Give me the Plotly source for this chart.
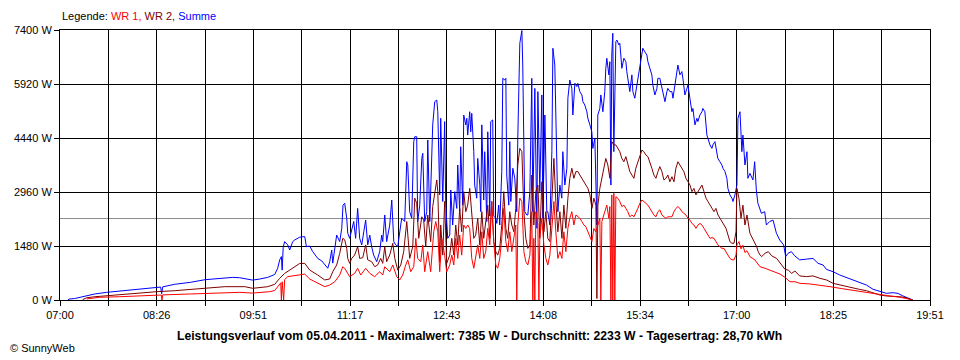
import numpy as np
import plotly.graph_objects as go

# ---------------- data (time = minutes after 07:00, power in W) ----------------
x_labels = ["07:00", "08:26", "09:51", "11:17", "12:43", "14:08", "15:34", "17:00", "18:25", "19:51"]
span_min = 771  # 07:00 -> 19:51
y_ticks = [0, 1480, 2960, 4440, 5920, 7400]
average_w = 2233

sum_t = [7.0, 8.0, 13.0, 20.1, 26.3, 30.8, 41.4, 52.9, 70.6, 85.8,
         89.2, 90.1, 91.0, 101.6, 115.7, 128.4, 137.3, 146.1, 153.1, 159.3,
         165.5, 170.8, 177.0, 184.1, 190.3, 192.9, 194.7, 196.2, 196.9, 197.8,
         199.1, 201.8, 203.6, 206.2, 208.0, 210.7, 212.4, 215.1, 216.9, 218.4,
         221.3, 224.0, 228.4, 232.0, 234.6, 237.3, 239.0, 240.8, 241.7, 243.5,
         245.2, 247.9, 249.7, 250.8, 252.3, 254.1, 255.0, 256.7, 258.5, 260.3,
         262.0, 263.8, 265.6, 267.4, 269.2, 270.9, 272.7, 274.5, 276.2, 278.0,
         280.7, 283.3, 285.1, 286.0, 287.8, 289.5, 292.2, 294.0, 295.8, 297.5,
         299.3, 301.1, 302.8, 305.5, 307.3, 308.2, 309.9, 311.7, 313.5, 314.4,
         316.1, 317.0, 318.8, 320.6, 321.5, 323.2, 325.0, 325.9, 327.7, 330.3,
         332.1, 333.9, 334.8, 336.5, 337.4, 339.2, 340.9, 341.8, 343.6, 345.4,
         346.3, 348.0, 349.8, 351.6, 352.5, 354.2, 355.1, 356.9, 357.8, 359.6,
         360.5, 361.3, 363.1, 364.0, 364.9, 366.7, 367.5, 369.3, 370.2, 372.0,
         372.9, 373.8, 375.5, 376.4, 378.2, 379.1, 380.9, 381.7, 383.5, 384.4,
         386.2, 387.1, 388.8, 389.7, 391.5, 392.4, 394.2, 395.1, 395.9, 397.7,
         398.6, 399.5, 401.3, 403.0, 404.8, 405.7, 407.5, 409.3, 410.1, 411.9,
         413.7, 414.6, 416.4, 418.1, 419.0, 420.8, 422.6, 423.5, 425.2, 427.0,
         427.9, 429.7, 431.4, 432.3, 434.1, 435.9, 436.8, 438.5, 440.3, 441.2,
         443.0, 444.7, 445.6, 447.4, 449.2, 450.1, 451.8, 453.6, 454.5, 456.3,
         458.0, 458.9, 460.7, 462.5, 463.4, 465.1, 466.9, 467.8, 469.6, 471.3,
         472.2, 474.0, 475.8, 476.6, 478.4, 479.3, 481.1, 482.8, 483.7, 484.6,
         486.4, 487.3, 488.2, 489.0, 489.9, 490.8, 492.6, 493.5, 495.3, 496.1,
         497.0, 497.9, 499.7, 501.5, 502.3, 504.1, 505.0, 506.8, 507.7, 509.4,
         511.2, 512.1, 513.9, 515.7, 516.5, 518.3, 520.1, 521.0, 522.8, 524.5,
         525.4, 527.2, 529.0, 529.8, 531.6, 533.4, 534.3, 536.1, 537.8, 538.7,
         540.5, 542.3, 543.2, 544.9, 546.7, 547.6, 549.4, 551.1, 552.0, 553.8,
         555.6, 556.5, 558.2, 560.0, 560.9, 562.7, 564.4, 565.3, 567.1, 568.9,
         569.7, 571.5, 573.3, 574.2, 576.0, 577.7, 578.6, 580.4, 582.2, 583.0,
         584.8, 586.6, 587.5, 589.3, 591.0, 591.9, 593.7, 595.5, 596.4, 598.1,
         599.9, 600.8, 602.6, 604.3, 605.2, 607.0, 608.8, 609.6, 611.4, 614.1,
         615.6, 617.1, 618.5, 621.6, 624.5, 626.0, 628.9, 631.9, 634.9, 637.8,
         641.3, 643.1, 645.2, 648.2, 651.1, 655.5, 661.5, 667.3, 671.8, 676.2,
         679.2, 685.1, 691.0, 697.0, 702.8, 708.7, 714.7, 720.5, 726.5, 732.4,
         738.3, 742.7, 747.1, 751.6, 756.0]
sum_w = [0, 25, 40, 90, 120, 165, 210, 245, 300, 350,
         355, 170, 360, 430, 485, 556, 575, 590, 620, 610,
         570, 545, 575, 620, 700, 870, 1100, 1190, 820, 1450,
         1600, 1510, 1370, 1600, 1645, 1690, 1720, 1735, 1735, 1460,
         1480, 1325, 1140, 1070, 960, 870, 1050, 1370, 1010, 1415,
         1780, 1600, 1965, 2600, 2650, 2240, 1830, 1690, 1965, 2150,
         1690, 2510, 1690, 1510, 1870, 2190, 1510, 1780, 1460, 1230,
         1050, 1325, 1780, 1600, 2330, 1600, 2055, 2740, 1600, 1510,
         1460, 1870, 2240, 2150, 3790, 3700, 2420, 2240, 4340, 4475,
         4475, 2150, 2600, 3880, 4020, 2150, 2420, 4385, 2150, 4800,
         5435, 5480, 5160, 2880, 4980, 2700, 4890, 2650, 1690, 1780,
         3015, 2055, 2970, 2510, 3700, 2420, 4200, 2600, 5070, 4800,
         4980, 4520, 5160, 4610, 5115, 4065, 3150, 2790, 3880, 3150,
         2420, 4800, 2740, 4065, 2150, 4610, 2300, 4890, 4935, 2300,
         2240, 2100, 2600, 2055, 3520, 6075, 6030, 6075, 3425, 2600,
         4340, 2700, 3610, 3335, 2420, 4430, 7035, 7385, 6440, 2420,
         2330, 2330, 2970, 6075, 2420, 5800, 1965, 5710, 2970, 5620,
         2240, 5070, 2420, 2420, 2055, 4065, 6900, 6440, 2970, 2420,
         3150, 2790, 4065, 3150, 3610, 5530, 6030, 5800, 5070, 5940,
         5850, 5940, 5710, 5620, 5435, 5345, 5160, 4980, 4800, 4610,
         4155, 4430, 2055, 5070, 5250, 5620, 5160, 5710, 6350, 6625,
         6170, 6530, 3150, 6715, 7310, 4065, 7080, 7125, 6990, 7035,
         6715, 6350, 6625, 6530, 6260, 5890, 5710, 6170, 5710, 5530,
         5850, 6075, 6350, 6760, 6900, 6800, 6715, 6530, 6350, 6170,
         5890, 5620, 5800, 6075, 6075, 5800, 5620, 5435, 5710, 5800,
         5710, 5710, 5530, 5940, 6260, 6440, 6170, 6260, 6075, 5620,
         5800, 5890, 5530, 5160, 5250, 4800, 4980, 4890, 5070, 5160,
         5250, 5160, 4520, 4430, 4250, 4155, 4250, 4340, 3975, 3880,
         3790, 3700, 3610, 3520, 3335, 3060, 2880, 2790, 2700, 2880,
         3150, 4980, 5160, 4065, 4520, 3700, 4065, 3335, 3470, 3290,
         3790, 3015, 2650, 2375, 2420, 2055, 2150, 2190, 1830, 1645,
         1510, 1190, 1280, 1325, 1210, 1100, 1120, 1140, 1005, 960,
         840, 775, 685, 620, 550, 475, 410, 293, 228, 183,
         200, 180, 110, 45, 0]

wr2_t = [20.1, 23.7, 30.8, 41.4, 52.9, 70.6, 85.8, 101.6, 115.7, 128.4,
         146.1, 163.8, 170.8, 184.1, 190.3, 194.7, 199.1, 203.6, 206.2, 212.4,
         216.9, 221.3, 228.4, 234.6, 239.0, 241.7, 245.2, 247.9, 250.6, 252.3,
         254.1, 255.0, 256.7, 258.5, 261.1, 263.8, 265.6, 268.3, 270.9, 272.7,
         276.2, 278.9, 281.5, 284.2, 286.0, 287.8, 289.5, 292.2, 294.9, 296.7,
         299.3, 302.0, 304.6, 307.3, 309.9, 312.6, 314.4, 316.1, 317.9, 320.6,
         322.3, 324.1, 325.9, 328.5, 330.3, 332.1, 333.9, 334.8, 336.5, 337.4,
         339.2, 340.9, 342.7, 345.4, 347.2, 349.0, 350.7, 352.5, 354.2, 356.0,
         357.8, 359.6, 361.3, 363.1, 364.9, 366.7, 368.4, 370.2, 372.0, 373.8,
         375.5, 377.3, 379.1, 380.9, 382.6, 384.4, 386.2, 387.9, 389.7, 391.5,
         393.3, 395.1, 396.8, 398.6, 400.4, 402.2, 403.9, 405.7, 407.5, 409.3,
         411.1, 412.8, 414.6, 416.4, 418.1, 419.9, 421.7, 423.5, 425.2, 427.0,
         428.8, 430.6, 432.3, 434.1, 435.9, 437.7, 439.4, 441.2, 443.0, 444.8,
         446.5, 448.3, 450.1, 451.8, 453.6, 455.4, 457.2, 458.9, 460.7, 462.5,
         464.3, 466.0, 467.8, 469.6, 471.4, 473.1, 474.9, 475.8, 476.7, 478.4,
         480.2, 482.0, 483.7, 485.5, 487.3, 489.0, 490.8, 492.6, 494.4, 496.1,
         497.9, 499.7, 501.5, 503.2, 505.0, 506.8, 508.6, 510.3, 512.1, 513.9,
         515.7, 517.4, 519.2, 521.0, 522.8, 524.5, 526.3, 528.1, 529.9, 531.6,
         533.4, 535.2, 537.0, 538.7, 540.5, 542.3, 544.1, 545.8, 547.6, 549.4,
         551.2, 552.9, 554.7, 556.5, 558.3, 560.0, 561.8, 563.6, 565.4, 567.1,
         568.9, 570.7, 572.5, 574.2, 576.0, 577.8, 579.6, 581.3, 583.1, 584.9,
         586.6, 588.4, 590.2, 592.0, 593.7, 595.5, 597.3, 599.1, 599.9, 601.7,
         603.5, 605.2, 607.0, 608.8, 611.4, 614.4, 617.4, 618.8, 620.3, 621.8,
         624.8, 627.7, 630.7, 635.1, 639.6, 642.5, 645.4, 648.4, 651.3, 655.5,
         661.5, 667.3, 673.3, 679.2, 685.1, 691.0, 697.0, 702.8, 708.7, 714.7,
         720.5, 726.5, 732.4, 738.3, 744.2, 750.1, 754.5]
wr2_w = [10, 60, 90, 118, 145, 183, 228, 255, 293, 320,
         365, 365, 320, 365, 430, 595, 730, 820, 870, 1000,
         1005, 820, 685, 550, 575, 775, 960, 1280, 1690, 1650,
         1415, 1140, 1005, 1140, 1233, 1460, 1140, 1160, 1510, 1100,
         1050, 913, 960, 1140, 1005, 1460, 1050, 1233, 1555, 1140,
         820, 960, 1325, 2150, 1140, 1460, 2790, 2650, 1690, 2280,
         2190, 1460, 2330, 1600, 2560, 2925, 3290, 2970, 1050, 2055,
         1230, 2700, 1005, 1230, 1690, 1230, 2055, 1510, 2510, 1870,
         2970, 2420, 2600, 3060, 2420, 1690, 1780, 2240, 1510, 2420,
         1690, 2150, 2600, 1690, 2700, 1600, 1325, 1230, 1420, 2055,
         2970, 1960, 1690, 2420, 2055, 1870, 2510, 3700, 4155, 4065,
         2420, 1690, 1415, 1510, 3425, 2055, 2970, 3150, 1690, 3240,
         1870, 2420, 1690, 1600, 2790, 3880, 2700, 1870, 2420, 1690,
         2600, 1965, 2790, 3335, 3610, 3335, 3520, 3520, 3425, 3335,
         3240, 3150, 3060, 2880, 2510, 2790, 2600, 40, 2600, 3060,
         3335, 3610, 3880, 3700, 3335, 4340, 4250, 4250, 4155, 4065,
         3880, 3790, 3930, 3700, 3520, 3425, 3335, 3610, 3790, 3975,
         4110, 4065, 3975, 3930, 3790, 3610, 3425, 3335, 3520, 3655,
         3520, 3290, 3335, 3425, 3240, 3380, 3240, 3610, 3790, 3700,
         3610, 3520, 3335, 3240, 3150, 2970, 3060, 2880, 2970, 3060,
         3150, 2970, 2790, 2700, 2600, 2510, 2420, 2510, 2330, 2240,
         2150, 2055, 1965, 1780, 1600, 1555, 1555, 1870, 3060, 2790,
         2240, 2600, 2055, 2330, 1830, 1645, 1460, 1325, 1233, 1190,
         1280, 1325, 1210, 1140, 960, 840, 820, 730, 795, 660,
         640, 660, 595, 550, 457, 410, 365, 320, 290, 255,
         200, 137, 110, 110, 90, 63, 0]

wr1_t = [23.7, 35.2, 52.9, 70.6, 88.4, 89.7, 90.4, 91.0, 115.7, 128.4,
         146.1, 159.3, 170.8, 185.8, 190.3, 192.9, 195.6, 196.2, 196.9, 198.2,
         199.1, 201.8, 206.2, 212.4, 216.9, 221.3, 228.4, 234.6, 239.0, 243.5,
         247.9, 250.6, 252.3, 255.0, 256.7, 261.1, 263.8, 266.5, 270.9, 274.5,
         278.9, 283.3, 286.0, 287.8, 292.2, 294.9, 298.4, 301.1, 303.7, 306.4,
         308.2, 310.8, 313.5, 315.3, 317.0, 319.7, 321.5, 323.2, 325.9, 328.5,
         331.2, 333.0, 334.8, 336.5, 338.3, 340.9, 342.7, 345.4, 347.2, 349.0,
         350.7, 352.5, 354.2, 356.0, 357.8, 359.6, 361.3, 363.1, 364.9, 366.7,
         368.4, 370.2, 372.0, 373.8, 375.5, 377.3, 379.1, 380.9, 382.6, 384.4,
         386.2, 387.9, 389.7, 391.5, 393.3, 395.1, 396.8, 398.6, 400.4, 402.2,
         403.9, 404.8, 405.7, 407.5, 409.3, 411.1, 412.8, 414.6, 416.4, 418.1,
         419.0, 419.9, 420.8, 421.7, 423.5, 424.4, 425.2, 427.0, 428.8, 430.6,
         432.3, 434.1, 435.9, 437.7, 439.4, 441.2, 443.0, 444.8, 446.5, 448.3,
         450.1, 451.8, 453.6, 455.4, 457.2, 458.9, 460.7, 462.5, 464.3, 466.0,
         467.8, 469.6, 471.4, 473.1, 474.9, 476.7, 478.4, 479.3, 480.2, 482.8,
         484.6, 486.4, 487.3, 488.2, 489.0, 489.9, 490.8, 491.7, 492.6, 494.4,
         496.1, 497.9, 499.7, 501.5, 503.2, 505.0, 506.8, 508.6, 510.3, 512.1,
         513.9, 515.7, 517.4, 519.2, 521.0, 522.8, 524.5, 526.3, 528.1, 529.9,
         531.6, 533.4, 535.2, 537.0, 538.7, 540.5, 542.3, 544.1, 545.8, 547.6,
         549.4, 551.2, 552.9, 554.7, 556.5, 558.3, 560.0, 561.8, 563.6, 565.4,
         567.1, 568.9, 570.7, 572.5, 574.2, 576.0, 577.8, 579.6, 581.3, 583.1,
         584.9, 586.6, 588.4, 590.2, 592.0, 593.7, 595.5, 597.3, 599.1, 599.9,
         601.7, 603.5, 605.2, 607.0, 608.8, 611.4, 615.8, 620.3, 624.8, 629.2,
         633.6, 638.1, 642.5, 646.9, 651.4, 655.8, 664.6, 673.5, 682.4, 691.2,
         700.1, 709.0, 717.8, 726.7, 735.5, 744.4, 753.3, 755.9]
wr1_w = [30, 75, 90, 110, 137, 137, 0, 140, 165, 183,
         210, 210, 190, 228, 260, 365, 470, 0, 500, 0,
         560, 640, 660, 685, 710, 575, 457, 365, 410, 500,
         685, 913, 870, 730, 640, 730, 870, 685, 870, 730,
         640, 775, 685, 913, 775, 960, 640, 550, 685, 960,
         1100, 775, 913, 1690, 1140, 1050, 1510, 775, 1325, 775,
         1870, 2150, 1870, 775, 1690, 1230, 775, 960, 1230, 960,
         1690, 1140, 1780, 1230, 2055, 1960, 2055, 1960, 1140, 870,
         1140, 1510, 1140, 1870, 1140, 1325, 1965, 1510, 2700, 1600,
         960, 870, 1140, 1690, 2510, 1600, 1325, 1870, 1325, 1690,
         2055, 0, 2055, 2790, 2700, 1325, 1050, 960, 1230, 2420,
         0, 1690, 0, 2420, 2055, 0, 1690, 2240, 1510, 1140,
         960, 1230, 1965, 2700, 1870, 1140, 1325, 1140, 1870, 1325,
         1965, 2240, 2420, 2055, 2330, 2290, 2240, 2150, 2055, 2010,
         1870, 1780, 1600, 1960, 1870, 2055, 2240, 0, 2150, 2420,
         2600, 2240, 2560, 0, 2880, 0, 2925, 0, 2830, 2790,
         2700, 2560, 2600, 2510, 2420, 2280, 2330, 2280, 2375, 2510,
         2650, 2740, 2700, 2650, 2600, 2510, 2420, 2330, 2280, 2420,
         2470, 2330, 2280, 2240, 2280, 2280, 2280, 2420, 2510, 2560,
         2510, 2420, 2375, 2330, 2240, 2190, 2100, 2055, 1965, 2055,
         2100, 2055, 1965, 1870, 1780, 1690, 1710, 1690, 1600, 1510,
         1460, 1415, 1415, 1325, 1233, 1140, 1100, 1100, 1233, 1510,
         1600, 1400, 1500, 1300, 1350, 1190, 1100, 913, 870, 820,
         775, 710, 620, 500, 500, 457, 440, 410, 365, 320,
         274, 228, 183, 137, 110, 75, 20, 0]

title_text = ("Leistungsverlauf vom 05.04.2011 - Maximalwert: 7385 W - "
              "Durchschnitt: 2233 W - Tagesertrag: 28,70 kWh")

# ---------------- figure ----------------
# The page body keeps the browser's default 8 px margin, so the figure is
# sized 952x352 and its margins are reduced by 8 px to land on the same pixels.
C_SUM, C_WR2, C_WR1 = "#0000FF", "#800000", "#FF0000"
FIG_W, FIG_H = 952, 352
M_L, M_R, M_T, M_B = 52, 30, 22, 60
plot_w = FIG_W - M_L - M_R
plot_h = FIG_H - M_T - M_B

fig = go.Figure()
fig.add_trace(go.Scatter(x=sum_t, y=sum_w, mode="lines", name="Summe",
                         line=dict(color=C_SUM, width=1)))
fig.add_trace(go.Scatter(x=wr2_t, y=wr2_w, mode="lines", name="WR 2",
                         line=dict(color=C_WR2, width=1)))
fig.add_trace(go.Scatter(x=wr1_t, y=wr1_w, mode="lines", name="WR 1",
                         line=dict(color=C_WR1, width=1)))

grid_vals = list(np.linspace(0, span_min, 2 * (len(x_labels) - 1) + 1))
grid_text = [x_labels[i // 2] if i % 2 == 0 else "" for i in range(len(grid_vals))]

fig.update_xaxes(range=[0, span_min], tickvals=grid_vals, ticktext=grid_text,
                 showgrid=True, gridcolor="black", gridwidth=1,
                 ticks="outside", ticklen=5, tickcolor="black", tickwidth=1,
                 showline=True, linecolor="black", linewidth=1, mirror=True,
                 zeroline=False, automargin=False,
                 tickfont=dict(family="Liberation Sans Narrow, Liberation Sans", size=11, color="black"))
fig.update_yaxes(range=[0, 7400], tickvals=y_ticks, ticktext=[f"{v} W" for v in y_ticks],
                 showgrid=True, gridcolor="black", gridwidth=1,
                 ticks="outside", ticklen=5, tickcolor="black", tickwidth=1,
                 showline=True, linecolor="black", linewidth=1, mirror=True,
                 zeroline=False, automargin=False,
                 tickfont=dict(family="Liberation Sans", size=11, color="black"))

fig.add_shape(type="line", xref="paper", x0=0, x1=1, yref="y", y0=average_w, y1=average_w,
              line=dict(color="#8c8c8c", width=1), layer="between")

legend_html = ('<span style="color:black">Legende: </span>'
               f'<span style="color:{C_WR1}">WR 1,</span> '
               f'<span style="color:{C_WR2}">WR 2,</span> '
               f'<span style="color:{C_SUM}">Summe</span>')
fig.add_annotation(text=legend_html, xref="paper", yref="paper", x=0, y=1 + 14 / plot_h,
                   xanchor="left", yanchor="middle", showarrow=False,
                   font=dict(family="Liberation Sans", size=11, color="black"))
fig.add_annotation(text="<b>" + title_text + "</b>", xref="paper", yref="paper",
                   x=(479 - 60) / plot_w, y=-36 / plot_h, xanchor="center", yanchor="middle",
                   showarrow=False,
                   font=dict(family="Liberation Sans Narrow, Liberation Sans", size=12.2, color="black"))
fig.add_annotation(text="© SunnyWeb", xref="paper", yref="paper", x=-M_L / plot_w, y=-48 / plot_h,
                   xanchor="left", yanchor="middle", showarrow=False,
                   font=dict(family="Liberation Sans", size=11, color="black"))

fig.update_layout(width=FIG_W, height=FIG_H,
                  margin=dict(l=M_L, r=M_R, t=M_T, b=M_B, autoexpand=False),
                  paper_bgcolor="white", plot_bgcolor="white", showlegend=False,
                  hovermode=False)

fig.write_html("out.html")
